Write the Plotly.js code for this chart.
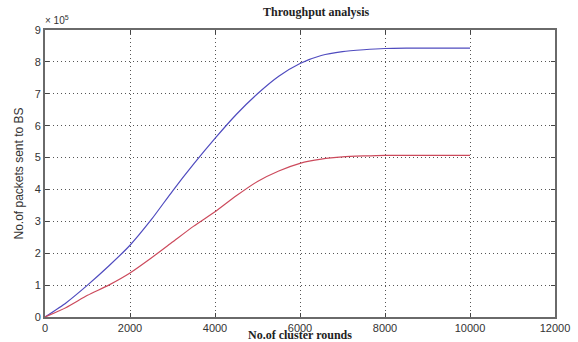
<!DOCTYPE html>
<html><head><meta charset="utf-8">
<script src="https://cdn.plot.ly/plotly-3.0.1.min.js"></script>
<style>html,body{margin:0;padding:0;background:#fff}#c{width:578px;height:342px}</style>
</head><body><div id="c"></div>
<script>
const rounds = [0,500,1000,1500,2000,2500,3000,3500,4000,4500,5000,5500,6000,6500,7000,7500,8000,8500,9000,10000];
const blueVals = [0,0.45,1.0,1.6,2.25,3.05,3.95,4.8,5.6,6.35,7.0,7.55,7.95,8.2,8.32,8.38,8.42,8.43,8.43,8.43];
const redVals = [0,0.3,0.68,1.0,1.38,1.85,2.35,2.85,3.3,3.8,4.25,4.58,4.82,4.95,5.02,5.05,5.07,5.07,5.07,5.07];
const xTicks = [0,2000,4000,6000,8000,10000,12000];
const yTicks = [0,1,2,3,4,5,6,7,8,9];
const traces = [
 {x: rounds, y: blueVals, mode:'lines', line:{color:'#4f4bbf', width:1.2, shape:'spline', smoothing:0.6}},
 {x: rounds, y: redVals, mode:'lines', line:{color:'#cc4a5c', width:1.2, shape:'spline', smoothing:0.6}}
];
const tickFont = {family:'Liberation Sans, Arial, sans-serif', size:11, color:'#333'};
const serif = 'Liberation Serif, Times New Roman, serif';
const layout = {
 width:578, height:342, showlegend:false,
 paper_bgcolor:'#fff', plot_bgcolor:'#fff',
 margin:{l:45, r:23, t:30, b:25},
 title:{text:'<b>Throughput analysis</b>', font:{family:serif, size:12, color:'#222'}, x:0.547, xanchor:'center', y:0.965, yanchor:'middle'},
 xaxis:{range:[0,12000], tickvals:xTicks, ticktext:xTicks.map(String), ticks:'inside', ticklen:4, tickcolor:'#444',
   showgrid:true, gridcolor:'#555', griddash:'1px,3px', gridwidth:1, zeroline:false,
   showline:true, linecolor:'#6a6a6a', linewidth:2, mirror:'ticks', tickfont:tickFont,
   title:{text:'<b>No.of cluster rounds</b>', font:{family:serif, size:12, color:'#222'}, standoff:0}},
 yaxis:{range:[0,9], tickvals:yTicks, ticktext:yTicks.map(String), ticks:'inside', ticklen:4, tickcolor:'#444',
   showgrid:true, gridcolor:'#555', griddash:'1px,3px', gridwidth:1, zeroline:false,
   showline:true, linecolor:'#6a6a6a', linewidth:2, mirror:'ticks', tickfont:tickFont,
   title:{text:'No.of packets sent to BS', font:{family:'Liberation Sans Narrow, Liberation Sans, Arial, sans-serif', size:12, color:'#333'}, standoff:8}},
 annotations:[{xref:'paper', yref:'paper', x:0, y:1, xanchor:'left', yanchor:'bottom', showarrow:false, yshift:2, xshift:-2,
   text:'× 10<sup>5</sup>', font:{family:'Liberation Sans, Arial, sans-serif', size:10, color:'#333'}}]
};
Plotly.newPlot('c', traces, layout, {staticPlot:true, displayModeBar:false});
</script></body></html>
